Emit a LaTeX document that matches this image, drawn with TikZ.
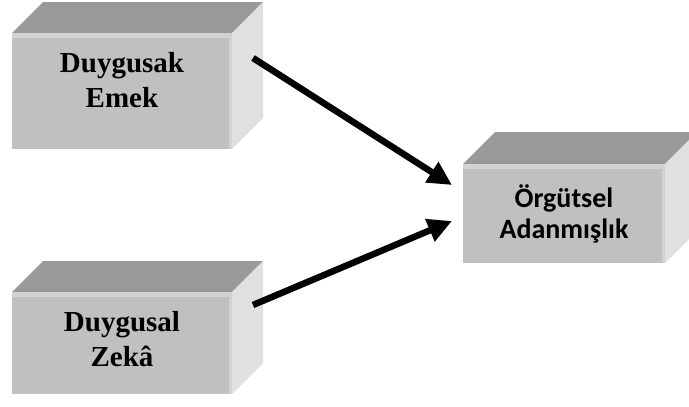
\documentclass[tikz,border=0pt]{standalone}
\usepackage{fontspec}
\setmainfont{Liberation Serif}
\newfontfamily\calibrifont{Carlito}
\usetikzlibrary{arrows.meta}

\definecolor{topgray}{HTML}{999999}
\definecolor{frontgray}{HTML}{C0C0C0}
\definecolor{sidegray}{HTML}{E0E0E0}
\definecolor{bevelgray}{HTML}{D2D2D2}

% 3D block: #1,#2 front top-left, #3,#4 front bottom-right, #5 depth
\newcommand{\blok}[5]{%
  \fill[topgray] (#1,#2) -- ++(#5,-#5) -- (#3+#5,#2-#5) -- (#3,#2) -- cycle;
  \fill[sidegray] (#3,#2) -- (#3+#5,#2-#5) -- (#3+#5,#4-#5) -- (#3,#4) -- cycle;
  \fill[frontgray] (#1,#2) rectangle (#3,#4);
  \fill[bevelgray] (#1,#2) rectangle (#3,#2+5);
  \fill[bevelgray] (#3-3,#2) rectangle (#3,#4);
}

\begin{document}
\begin{tikzpicture}[x=1pt, y=-1pt,
    lbl/.style={font=\fontsize{29}{35}\selectfont\bfseries, align=center,
      inner sep=0pt},
    lblsans/.style={font=\calibrifont\fontsize{28}{31}\selectfont\bfseries,
      align=center, inner sep=0pt},
    arr/.style={-{Triangle[length=24pt, width=23pt]}, line width=6.5pt, black},
  ]
  \clip (0,0) rectangle (689,407);

  % blocks
  \blok{12}{33}{232}{149}{31}
  \blok{12}{292}{232}{394}{31}
  \blok{463}{164}{665}{263}{32}

  % labels
  \node[lbl] (emek) at (122,80) {Duygusak\\Emek};
  \node[lbl] (zeka) at (122,339) {Duygusal\\Zekâ};
  \node[lblsans] (adanmis) at (564,214) {Örgütsel\\Adanmışlık};

  % arrow ends
  \coordinate (emekout) at (253,58);
  \coordinate (zekaout) at (253,305);
  \coordinate (adanin1) at (452,185);
  \coordinate (adanin2) at (452,221);

  \draw[arr] (emekout) -- (adanin1);
  \draw[arr] (zekaout) -- (adanin2);
\end{tikzpicture}
\end{document}
